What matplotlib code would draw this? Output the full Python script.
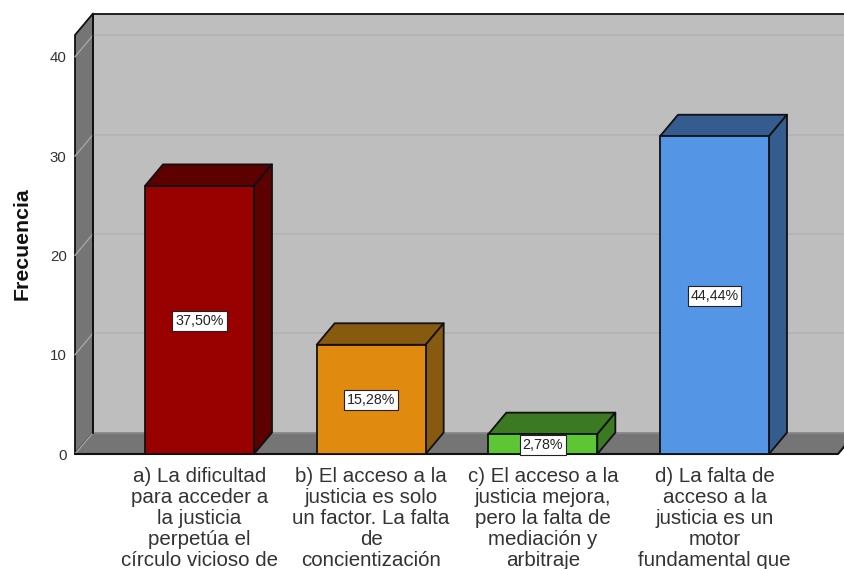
#Figure: Frecuencia por respuesta (barras 3D)

import matplotlib
matplotlib.use('Agg')
import matplotlib.pyplot as plt
from matplotlib.patches import Polygon

# =========================
# DATA
# =========================
categories = [
    'a) La dificultad\npara acceder a\nla justicia\nperpetúa el\ncírculo vicioso de',
    'b) El acceso a la\njusticia es solo\nun factor. La falta\nde\nconcientización',
    'c) El acceso a la\njusticia mejora,\npero la falta de\nmediación y\narbitraje',
    'd) La falta de\nacceso a la\njusticia es un\nmotor\nfundamental que',
]
values = [27, 11, 2, 32]
percent_labels = ['37,50%', '15,28%', '2,78%', '44,44%']
y_ticks = [0, 10, 20, 30, 40]

# =========================
# THEME SETTINGS
# =========================
FRONT_COLORS = ['#990000', '#E08A0F', '#5DC635', '#5595E5']
SHADE_COLORS = ['#5C0000', '#875A10', '#3B7A22', '#345C8F']
BACK_COLOR = '#BEBEBE'
WALL_COLOR = '#757575'
GRID_COLOR = '#B2B2B2'
WALL_GRID = '#A5A5A5'
TEXT_COLOR = '#333333'
EDGE = '#111111'

W, H = 844, 569
X0, X1, Y0, Y1 = 75, 838, 454, 35    # front plane in pixels
X_UNIT = 171.67
Y_UNIT = 9.93
BAR_WIDTH = 109 / X_UNIT
DX = 18 / X_UNIT       # depth of the 3D box in data units
DY = 21.5 / Y_UNIT

plt.rcParams['font.family'] = ['Liberation Sans', 'DejaVu Sans']

fig = plt.figure(figsize=(W / 100, H / 100), dpi=100)
ax = fig.add_axes([X0 / W, 1 - Y0 / H, (X1 - X0) / W, (Y0 - Y1) / H])
ax.set_xlim((X0 - 199.5) / X_UNIT, (X1 - 199.5) / X_UNIT)
ax.set_ylim(0, (Y0 - Y1) / Y_UNIT)
ax.patch.set_visible(False)
for side in ax.spines.values():
    side.set_visible(False)

xl, xr = ax.get_xlim()
yb, yt = ax.get_ylim()


def poly(points, color, z, edge=EDGE, lw=1.3):
    ax.add_patch(Polygon(points, closed=True, facecolor=color, edgecolor=edge,
                         linewidth=lw, zorder=z, clip_on=False, joinstyle='round'))


# back wall, left wall, floor
poly([(xl + DX, DY), (xr + DX, DY), (xr + DX, yt + DY), (xl + DX, yt + DY)], BACK_COLOR, 1, edge='none')
poly([(xl, 0), (xl + DX, DY), (xl + DX, yt + DY), (xl, yt)], WALL_COLOR, 2)
poly([(xl, 0), (xr, 0), (xr + DX, DY), (xl + DX, DY)], WALL_COLOR, 2, edge='none')

# grid lines on the back and the left wall
for v in y_ticks:
    if v > 0:
        ax.plot([xl + DX, xr + DX], [v + DY, v + DY], color=GRID_COLOR, lw=1.2, zorder=3, clip_on=False)
    ax.plot([xl, xl + DX], [v, v + DY], color=WALL_GRID, lw=1.0, zorder=3, clip_on=False)
ax.plot([xl + DX, xr + DX], [DY, DY], color='#8A8A8A', lw=1.2, zorder=3, clip_on=False)

# outline of the box
ax.plot([xl + DX, xr + DX], [yt + DY, yt + DY], color=EDGE, lw=1.3, zorder=4, clip_on=False)
ax.plot([xl + DX, xl + DX], [DY, yt + DY], color=EDGE, lw=1.3, zorder=4, clip_on=False)
ax.plot([xl, xr, xr + DX], [0, 0, DY], color=EDGE, lw=1.5, zorder=4, clip_on=False)

# bars
for i, v in enumerate(values):
    left = i - BAR_WIDTH / 2
    right = i + BAR_WIDTH / 2
    poly([(left, v), (right, v), (right + DX, v + DY), (left + DX, v + DY)], SHADE_COLORS[i], 5)
    poly([(right, 0), (right + DX, DY), (right + DX, v + DY), (right, v)], SHADE_COLORS[i], 5)
    poly([(left, 0), (right, 0), (right, v), (left, v)], FRONT_COLORS[i], 6)
    ax.annotate(percent_labels[i], (i, v / 2), xytext=(0, -0.6), textcoords='offset points',
                ha='center', va='center', fontsize=10.3, color='#222222', zorder=8,
                bbox=dict(boxstyle='square,pad=0.2', facecolor='white', edgecolor='#222222', linewidth=0.8))

ax.set_yticks(y_ticks)
ax.set_yticklabels([str(v) for v in y_ticks])
ax.set_xticks(range(len(categories)))
ax.set_xticklabels(categories, linespacing=1.135)
ax.tick_params(axis='y', length=0, pad=6, labelsize=10.8, labelcolor=TEXT_COLOR)
ax.tick_params(axis='x', length=0, pad=9.5, labelsize=14.8, labelcolor=TEXT_COLOR)
for label in ax.get_xticklabels():
    label.set_clip_on(False)

fig.text(22.5 / W, 1 - 244 / H, 'Frecuencia', rotation=90, ha='center', va='center',
         fontsize=15.3, weight='bold', color='#111111')

fig.savefig('out.png', dpi=100)
